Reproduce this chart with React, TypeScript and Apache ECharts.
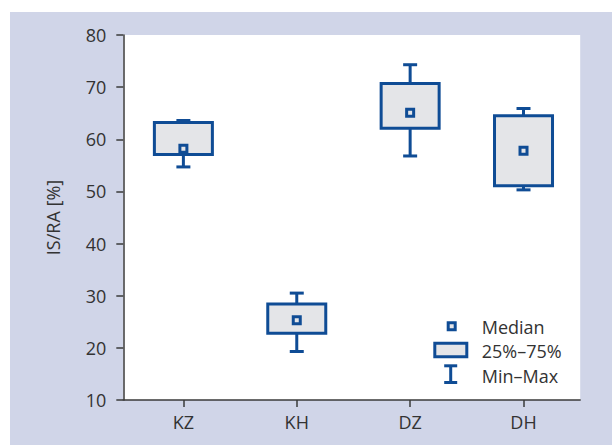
import React, { useEffect, useRef } from "react";
import * as echarts from "echarts";

const categories = ["KZ", "KH", "DZ", "DH"];
const positions = [1, 2, 3, 4];
const minValues = [54.7, 19.3, 56.8, 50.3];
const q1Values = [57.1, 22.8, 62.1, 51.1];
const medianValues = [58.2, 25.3, 65.1, 57.8];
const q3Values = [63.2, 28.4, 70.7, 64.5];
const maxValues = [63.6, 30.5, 74.3, 65.9];
const yMin = 10;
const yMax = 80;
const yInterval = 10;
const legendLabels = ["Median", "25%–75%", "Min–Max"];
const yAxisTitle = "IS/RA [%]";

const BLUE = "#0f4c95";
const FILL = "#e4e5e8";
const AXIS = "#3a3a3a";
const TEXT = "#333333";
const BG = "#d0d5e8";
const FONT = "Open Sans";
const FS = 18;

export default function App() {
  const ref = useRef<HTMLDivElement>(null);
  useEffect(() => {
    const chart = echarts.init(ref.current!, undefined, { renderer: "svg" });
    const data = positions.map((p, i) => [
      p,
      minValues[i],
      q1Values[i],
      medianValues[i],
      q3Values[i],
      maxValues[i],
    ]);
    const lineStyle = { stroke: BLUE, lineWidth: 3 };
    chart.setOption({
      animation: false,
      backgroundColor: BG,
      textStyle: { fontFamily: FONT },
      grid: {
        left: 123.3,
        right: 31.8,
        top: 35,
        bottom: 45,
        show: true,
        backgroundColor: "#ffffff",
        borderWidth: 0,
      },
      xAxis: {
        type: "value",
        min: 0.47,
        max: 4.5,
        splitLine: { show: false },
        axisLine: { show: true, lineStyle: { color: AXIS, width: 1.5 } },
        axisTick: {
          show: true,
          customValues: positions,
          length: 7,
          lineStyle: { color: AXIS, width: 1.5 },
        },
        axisLabel: {
          customValues: positions,
          formatter: (v: number) => categories[Math.round(v) - 1] ?? "",
          color: TEXT,
          fontSize: FS,
          fontFamily: FONT,
          margin: 13,
        },
      },
      yAxis: {
        type: "value",
        min: yMin,
        max: yMax,
        interval: yInterval,
        name: yAxisTitle,
        nameLocation: "middle",
        nameGap: 61,
        nameTextStyle: { color: TEXT, fontSize: FS, fontFamily: FONT },
        splitLine: { show: false },
        axisLine: { show: true, lineStyle: { color: AXIS, width: 1.5 } },
        axisTick: { show: true, length: 7, lineStyle: { color: AXIS, width: 1.5 } },
        axisLabel: { color: TEXT, fontSize: FS, fontFamily: FONT, margin: 17 },
      },
      graphic: [
        { type: "rect", shape: { x: 0, y: 0, width: 612, height: 12 }, style: { fill: "#ffffff" }, silent: true },
        { type: "rect", shape: { x: 0, y: 0, width: 10, height: 445 }, style: { fill: "#ffffff" }, silent: true },
        {
          type: "rect",
          shape: { x: 448.2, y: 322.8, width: 7, height: 7 },
          style: { fill: FILL, stroke: BLUE, lineWidth: 3 },
        },
        {
          type: "rect",
          shape: { x: 434.8, y: 343.2, width: 32, height: 13.6 },
          style: { fill: FILL, stroke: BLUE, lineWidth: 3 },
        },
        { type: "line", shape: { x1: 450.7, y1: 365.8, x2: 450.7, y2: 382.5 }, style: lineStyle },
        { type: "line", shape: { x1: 444.2, y1: 365.8, x2: 457.2, y2: 365.8 }, style: lineStyle },
        { type: "line", shape: { x1: 444.2, y1: 382.5, x2: 457.2, y2: 382.5 }, style: lineStyle },
        ...legendLabels.map((t, i) => ({
          type: "text",
          x: 481.7,
          y: [326.5, 350.7, 375.5][i],
          style: {
            text: t,
            fill: TEXT,
            fontSize: FS,
            fontFamily: FONT,
            textAlign: "left",
            textVerticalAlign: "middle",
          },
        })),
      ],
      series: [
        {
          type: "custom",
          data,
          encode: { x: 0, y: [1, 2, 3, 4, 5] },
          renderItem: (params: any, api: any) => {
            const x = api.value(0);
            const pMin = api.coord([x, api.value(1)]);
            const pQ1 = api.coord([x, api.value(2)]);
            const pMed = api.coord([x, api.value(3)]);
            const pQ3 = api.coord([x, api.value(4)]);
            const pMax = api.coord([x, api.value(5)]);
            const cx = pMed[0];
            const half = 29;
            const cap = 7;
            return {
              type: "group",
              children: [
                { type: "line", shape: { x1: cx, y1: pMax[1], x2: cx, y2: pQ3[1] }, style: lineStyle },
                { type: "line", shape: { x1: cx, y1: pQ1[1], x2: cx, y2: pMin[1] }, style: lineStyle },
                { type: "line", shape: { x1: cx - cap, y1: pMax[1], x2: cx + cap, y2: pMax[1] }, style: lineStyle },
                { type: "line", shape: { x1: cx - cap, y1: pMin[1], x2: cx + cap, y2: pMin[1] }, style: lineStyle },
                {
                  type: "rect",
                  shape: { x: cx - half, y: pQ3[1], width: half * 2, height: pQ1[1] - pQ3[1] },
                  style: { fill: FILL, stroke: BLUE, lineWidth: 3 },
                },
                {
                  type: "rect",
                  shape: { x: cx - 3.5, y: pMed[1] - 3.5, width: 7, height: 7 },
                  style: { fill: FILL, stroke: BLUE, lineWidth: 3 },
                },
              ],
            };
          },
        },
      ],
    });
    return () => chart.dispose();
  }, []);
  return (
    <div
      ref={ref}
      style={{ position: "fixed", left: 0, top: 0, width: 612, height: 445 }}
    />
  );
}
